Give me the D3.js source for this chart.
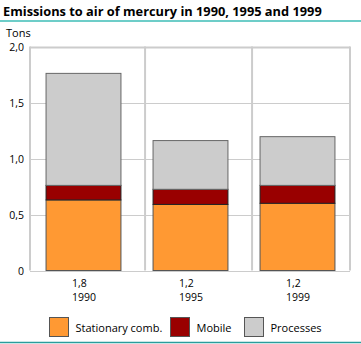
<!DOCTYPE html>
<html><head><meta charset="utf-8">
<script src="https://cdn.jsdelivr.net/npm/d3@7"></script>
<style>body{margin:0;background:#fff}svg{display:block}text{font-family:"Open Sans",sans-serif;fill:#000}</style>
</head><body>
<script>
const years = ["1990", "1995", "1999"];
const totals = ["1,8", "1,2", "1,2"];
const seriesNames = ["Stationary comb.", "Mobile", "Processes"];
const stationary = [0.63, 0.59, 0.60];
const mobile = [0.13, 0.135, 0.16];
const processes = [1.00, 0.435, 0.435];
const colors = ["#ff9933", "#990000", "#cccccc"];
const yTicks = [0, 0.5, 1.0, 1.5, 2.0];

const W = 361, H = 344;
const svg = d3.select("body").append("svg").attr("width", W).attr("height", H);

const rows = years.map((y, i) => ({year: y, s0: stationary[i], s1: mobile[i], s2: processes[i]}));
const stack = d3.stack().keys(["s0", "s1", "s2"])(rows);

const x = d3.scaleBand().domain(years).range([29.5, 350.5]).paddingInner(0.3).paddingOuter(0.15);
const y = d3.scaleLinear().domain([0, 2]).range([270.5, 46.5]);

// title
svg.append("text").attr("x", 3).attr("y", 16).attr("font-weight", "bold").attr("font-size", 12.8)
  .text("Emissions to air of mercury in 1990, 1995 and 1999");
svg.append("line").attr("x1", 0).attr("x2", W).attr("y1", 21).attr("y2", 21)
  .attr("stroke", "#6dcdc8").attr("stroke-width", 2);
svg.append("line").attr("x1", 0).attr("x2", W).attr("y1", 342.5).attr("y2", 342.5)
  .attr("stroke", "#2a9c9c").attr("stroke-width", 1.5);

svg.append("text").attr("x", 6).attr("y", 36.5).attr("font-size", 11).text("Tons");

// grid
const g = svg.append("g");
g.selectAll(".h").data(yTicks).join("line")
  .attr("x1", 30).attr("x2", 350).attr("y1", d => Math.round(y(d)) + 0.5).attr("y2", d => Math.round(y(d)) + 0.5)
  .attr("stroke", "#cccccc").attr("stroke-width", d => d === 2 ? 2 : 1.2);
const step = x.step();
const vlines = [30, x(years[0]) + x.bandwidth() / 2 + step * 0.58, x(years[1]) + x.bandwidth() / 2 + step * 0.58, 350];
g.selectAll(".v").data(vlines).join("line")
  .attr("x1", d => d).attr("x2", d => d).attr("y1", y(2)).attr("y2", y(0))
  .attr("stroke", "#cccccc").attr("stroke-width", 2);

// y labels
svg.selectAll(".yl").data(yTicks).join("text")
  .attr("x", 24).attr("y", d => y(d) + 4).attr("text-anchor", "end").attr("font-size", 10.5)
  .text(d => d === 0 ? "0" : d3.format(".1f")(d).replace(".", ","));

// bars
stack.forEach((layer, li) => {
  svg.append("g").selectAll("rect").data(layer).join("rect")
    .attr("x", d => x(d.data.year) + 0.5)
    .attr("y", d => y(d[1]))
    .attr("width", x.bandwidth())
    .attr("height", d => y(d[0]) - y(d[1]))
    .attr("fill", colors[li])
    .attr("stroke", li === 0 ? "#555" : (li === 1 ? "#222" : "#666"))
    .attr("stroke-width", 1);
});

// x labels
years.forEach((yr, i) => {
  const cx = x(yr) + x.bandwidth() / 2;
  svg.append("text").attr("x", cx - 11).attr("y", 286.5).attr("font-size", 10.5).text(totals[i]);
  svg.append("text").attr("x", cx - 11).attr("y", 300.5).attr("font-size", 10.5).text(yr);
});

// legend
const legX = [49.5, 170.5, 244.5];
seriesNames.forEach((n, i) => {
  svg.append("rect").attr("x", legX[i]).attr("y", 317.5).attr("width", 19).attr("height", 19)
    .attr("fill", colors[i]).attr("stroke", "#555").attr("stroke-width", 1);
  svg.append("text").attr("x", legX[i] + 26).attr("y", 332).attr("font-size", 11).text(n);
});
</script>
</body></html>
